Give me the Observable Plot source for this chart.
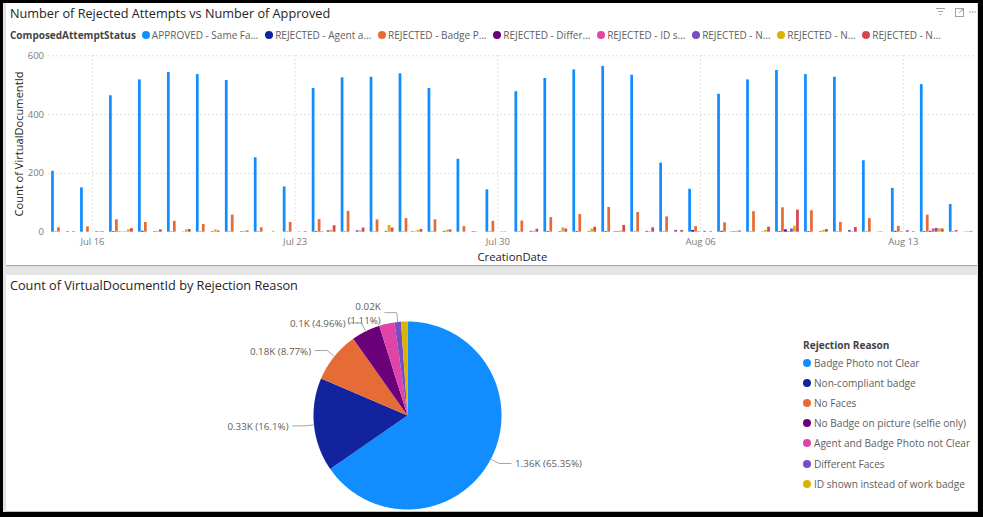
<!DOCTYPE html>
<html>
<head>
<meta charset="utf-8">
<script src="https://cdn.jsdelivr.net/npm/d3@7"></script>
<script src="https://cdn.jsdelivr.net/npm/@observablehq/plot@0.6"></script>
<style>
html, body { margin:0; padding:0; width:983px; height:517px; overflow:hidden; background:#000;
  font-family:"Segoe UI","Open Sans",sans-serif; }
#frame { position:absolute; left:3px; top:3px; width:975px; height:509px; background:#e6e6e6; }
.card { position:absolute; background:#fff; }
#topcard { left:6px; top:3px; width:971px; height:262px; box-shadow:0 1px 1px rgba(0,0,0,0.25); }
#botcard { left:6px; top:275px; width:971px; height:236px; box-shadow:0 1px 1px rgba(0,0,0,0.15); }
.title { position:absolute; left:4px; font-size:12.7px; line-height:16px; color:#252423; white-space:nowrap; }
#legend { position:absolute; left:4px; top:25px; height:14px; display:flex; align-items:center; white-space:nowrap;
  font-size:10px; color:#605E5C; line-height:14px; }
#legend .lt { font-weight:700; color:#444; margin-right:6px; }
#legend .it { display:flex; align-items:center; margin-right:6.8px; }
.dot { display:inline-block; width:8px; height:8px; border-radius:50%; margin-right:2px; }
#bar { position:absolute; left:0; top:42px; }
#pie { position:absolute; left:0; top:1px; }
#pielegend { position:absolute; left:797px; top:63px; font-size:10.1px; color:#605E5C; white-space:nowrap; }
#pielegend .lt { font-weight:700; color:#444; line-height:15px; margin-bottom:0px; }
#pielegend .it { display:flex; align-items:center; height:20.1px; }
#icons { position:absolute; left:926px; top:2px; }
</style>
</head>
<body>
<div id="frame"></div>
<div class="card" id="topcard">
  <div class="title" style="top:2px">Number of Rejected Attempts vs Number of Approved</div>
  <div id="legend"></div>
  <div id="bar"></div>
  <svg id="icons" width="45" height="14">
    <g stroke="#a0a0a0" stroke-width="1" fill="none">
      <path d="M4 3.5h9M6 6.5h5M7.5 9.5h2"/>
      <rect x="23.5" y="3.5" width="8" height="8"/>
      <path d="M27 8l4-4M28.5 4h2.5v2.5"/>
    </g>
    <g fill="#a0a0a0"><circle cx="38" cy="7" r="0.8"/><circle cx="40.5" cy="7" r="0.8"/><circle cx="43" cy="7" r="0.8"/></g>
  </svg>
</div>
<div class="card" id="botcard">
  <div class="title" style="top:2px">Count of VirtualDocumentId by Rejection Reason</div>
  <div id="pie"></div>
  <div id="pielegend"></div>
</div>
<script>
// ---------- Bar chart data ----------
const days = ["Jul 15","Jul 16","Jul 17","Jul 18","Jul 19","Jul 20","Jul 21","Jul 22","Jul 23","Jul 24","Jul 25","Jul 26","Jul 27","Jul 28","Jul 29","Jul 30","Jul 31",
  "Aug 01","Aug 02","Aug 03","Aug 04","Aug 05","Aug 06","Aug 07","Aug 08","Aug 09","Aug 10","Aug 11","Aug 12","Aug 13","Aug 14","Aug 15"];
const xTickLabels = ["Jul 16","Jul 23","Jul 30","Aug 06","Aug 13"];
const yTicks = [0, 200, 400, 600];
const seriesNames = ["APPROVED - Same Faces","REJECTED - Agent and Badge Photo not Clear","REJECTED - Badge Photo not Clear",
  "REJECTED - Different Faces","REJECTED - ID shown instead of work badge","REJECTED - No Badge on picture (selfie only)",
  "REJECTED - No Faces","REJECTED - Non-compliant badge"];
const legendLabels = ["APPROVED - Same Fa…","REJECTED - Agent a…","REJECTED - Badge P…","REJECTED - Differ…",
  "REJECTED - ID s…","REJECTED - N…","REJECTED - N…","REJECTED - N…"];
const seriesColors = ["#118DFF","#12239E","#E66C37","#6B007B","#E044A7","#744EC2","#D9B300","#D64550"];
const approved       = [207,151,464,518,543,536,516,253,154,489,525,527,539,489,248,144,478,523,552,564,534,235,146,469,518,550,536,527,243,149,502,94];
const agentBadge     = [1,0,2,3,1,1,1,1,1,2,1,1,1,1,0,1,1,2,2,2,1,1,6,3,1,2,2,1,1,3,2,1];
const badgePhoto     = [15,18,42,33,37,26,58,15,33,43,71,42,46,42,19,37,38,50,60,84,67,52,19,32,70,83,73,33,46,20,58,6];
const differentFaces = [0,0,1,0,0,0,0,0,0,1,0,0,0,0,0,0,0,0,0,0,0,0,1,0,0,8,0,0,0,1,3,0];
const idShown        = [0,0,1,0,0,0,0,0,0,0,0,0,2,0,0,0,0,0,0,2,0,0,0,1,0,2,0,0,0,0,11,0];
const noBadge        = [2,2,1,2,1,2,2,0,1,5,5,3,1,3,2,1,3,2,2,2,3,6,3,2,1,11,2,6,1,5,13,1];
const noFaces        = [0,2,8,3,8,8,3,3,0,6,4,23,6,6,2,2,3,15,11,4,2,0,0,3,6,20,6,2,2,0,11,2];
const nonCompliant   = [2,2,12,8,9,4,4,0,2,22,14,14,9,8,0,0,10,11,17,23,15,6,2,4,17,75,9,16,0,2,11,2];

// ---------- Pie data ----------
const reasons = ["Badge Photo not Clear","Non-compliant badge","No Faces","No Badge on picture (selfie only)",
  "Agent and Badge Photo not Clear","Different Faces","ID shown instead of work badge"];
const reasonCounts = [1360,335,182,103,55,23,23];
const reasonLabels = ["1.36K (65.35%)","0.33K (16.1%)","0.18K (8.77%)","0.1K (4.96%)","","0.02K\n(1.11%)",""];
const reasonColors = ["#118DFF","#12239E","#E66C37","#6B007B","#E044A7","#744EC2","#D9B300"];

// ---------- Top legend ----------
const lg = document.getElementById("legend");
lg.innerHTML = '<span class="lt">ComposedAttemptStatus</span>' + legendLabels.map((t, i) =>
  `<span class="it"><span class="dot" style="background:${seriesColors[i]}"></span>${t}</span>`).join("");

// ---------- Bar chart ----------
const seriesValues = [approved, agentBadge, badgePhoto, differentFaces, idShown, noBadge, noFaces, nonCompliant];
const bars = [];
seriesValues.forEach((vals, s) => vals.forEach((v, i) => { if (v > 0) bars.push({i, s, v, name: seriesNames[s]}); }));
const slot = 0.1036, bw = 0.094;
const xTickIdx = xTickLabels.map(t => days.indexOf(t));
const font = "'Segoe UI','Open Sans',sans-serif";

const bar = Plot.plot({
  width: 971, height: 220,
  marginLeft: 42.5, marginRight: 1.8, marginTop: 10.3, marginBottom: 33.3,
  style: {fontFamily: font, background: "transparent", overflow: "visible"},
  x: {domain: [-0.5, days.length - 0.5]},
  y: {domain: [0, 600]},
  color: {domain: seriesNames, range: seriesColors},
  marks: [
    Plot.gridY({ticks: yTicks.filter(d => d > 0), stroke: "#c4c4c4", strokeOpacity: 1, strokeDasharray: "1,3"}),
    Plot.gridX({ticks: xTickIdx, stroke: "#c4c4c4", strokeOpacity: 1, strokeDasharray: "1,3"}),
    Plot.rect(bars, {
      x1: d => d.i + (d.s - 3.5) * slot - bw / 2,
      x2: d => d.i + (d.s - 3.5) * slot + bw / 2,
      y1: d => 0, y2: d => d.v, fill: "name"
    }),
    Plot.axisY({ticks: yTicks, tickSize: 0, tickPadding: 5, label: null, color: "#7a7a7a", fontSize: 9.5}),
    Plot.axisX({ticks: xTickIdx, tickFormat: i => days[i], tickSize: 0, tickPadding: 6, label: null, color: "#7a7a7a", fontSize: 9.5}),
    Plot.text(["Count of VirtualDocumentId"], {text: d => d, frameAnchor: "left", textAnchor: "middle", lineAnchor: "middle",
      rotate: -90, dx: -29.5, fontSize: 11.1, fill: "#252423"}),
    Plot.text(["CreationDate"], {text: d => d, frameAnchor: "bottom", textAnchor: "middle", lineAnchor: "middle",
      dy: 25.5, fontSize: 11.3, fill: "#252423"})
  ]
});
document.getElementById("bar").appendChild(bar);

// ---------- Pie chart ----------
const pieW = 600, pieH = 235, pcx = 401, pcy = 139, R = 94;
const arcs = d3.pie().sort(null).value(d => d)(reasonCounts);
const polys = [];
arcs.forEach((a, k) => {
  const steps = Math.max(2, Math.ceil((a.endAngle - a.startAngle) / 0.01));
  polys.push({k, x: 0, y: 0});
  for (let j = 0; j <= steps; j++) {
    const t = a.startAngle + (a.endAngle - a.startAngle) * j / steps;
    polys.push({k, x: Math.sin(t), y: Math.cos(t)});
  }
});
const leaders = [], labelsR = [], labelsL = [];
arcs.forEach((a, k) => {
  if (!reasonLabels[k]) return;
  const m = (a.startAngle + a.endAngle) / 2;
  const sx = Math.sin(m), sy = Math.cos(m);
  const side = sx >= 0 ? 1 : -1;
  const ex = 1.1 * sx, ey = 1.1 * sy;
  const hx = ex + side * 12 / R;
  leaders.push({k, x: sx, y: sy}, {k, x: ex, y: ey}, {k, x: hx, y: ey});
  (side > 0 ? labelsR : labelsL).push({x: hx + side * 4 / R, y: ey, text: reasonLabels[k]});
});
const pie = Plot.plot({
  width: pieW, height: pieH, margin: 0,
  style: {fontFamily: font, background: "transparent", overflow: "visible"},
  x: {domain: [-pcx / R, (pieW - pcx) / R], axis: null},
  y: {domain: [-(pieH - pcy) / R, pcy / R], axis: null},
  color: {domain: reasons, range: reasonColors},
  marks: [
    Plot.line(polys, {x: "x", y: "y", z: "k", fill: d => reasons[d.k], stroke: "none", curve: "linear"}),
    Plot.line(leaders, {x: "x", y: "y", z: "k", stroke: "#a6a6a6", strokeWidth: 1, curve: "linear"}),
    Plot.text(labelsR, {x: "x", y: "y", text: "text", textAnchor: "start", fill: "#605E5C", fontSize: 9.8}),
    Plot.text(labelsL, {x: "x", y: "y", text: "text", textAnchor: "end", fill: "#605E5C", fontSize: 9.8, lineHeight: 1.35})
  ]
});
document.getElementById("pie").appendChild(pie);

// ---------- Pie legend ----------
const pl = document.getElementById("pielegend");
pl.innerHTML = '<div class="lt">Rejection Reason</div>' + reasons.map((t, i) =>
  `<div class="it"><span class="dot" style="background:${reasonColors[i]};margin-right:3px"></span>${t}</div>`).join("");
</script>
</body>
</html>
